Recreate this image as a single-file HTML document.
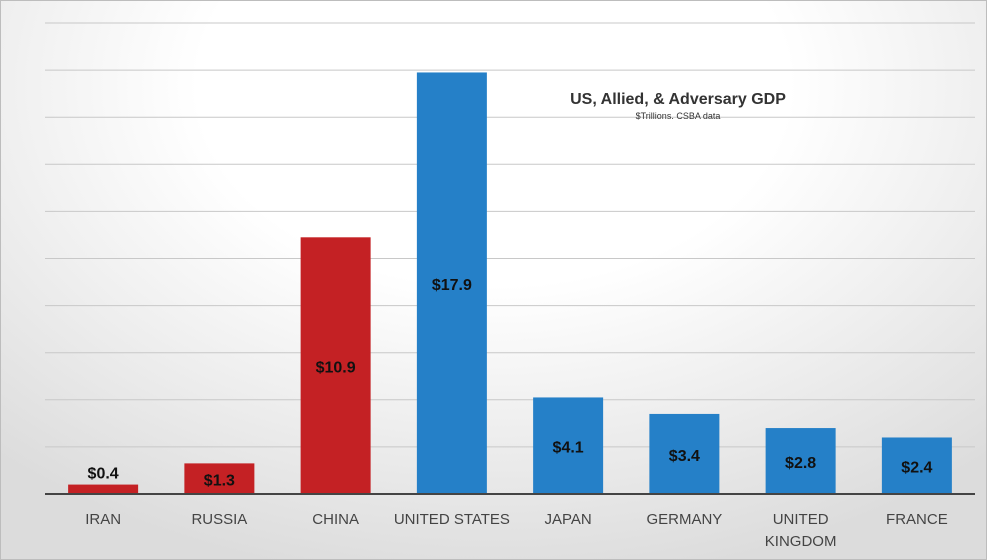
<!DOCTYPE html>
<html><head><meta charset="utf-8"><style>
html,body{margin:0;padding:0}
body{width:987px;height:560px;overflow:hidden;font-family:"Liberation Sans",sans-serif}
#bg{position:absolute;left:0;top:0;width:985px;height:558px;border:1px solid #bdbdbd;background:radial-gradient(ellipse 75% 90% at 50% 15%,#ffffff 40%,#dcdcdc 100%)}
</style></head><body>
<div id="bg"></div>
<svg id="chart" width="987" height="560" style="position:absolute;left:0;top:0"></svg>
<script>
const categories=["IRAN","RUSSIA","CHINA","UNITED STATES","JAPAN","GERMANY","UNITED|KINGDOM","FRANCE"];
const values=[0.4,1.3,10.9,17.9,4.1,3.4,2.8,2.4];
const labels=["$0.4","$1.3","$10.9","$17.9","$4.1","$3.4","$2.8","$2.4"];
const colors=["#c42124","#c42124","#c42124","#2580c8","#2580c8","#2580c8","#2580c8","#2580c8"];
const gridTicks=[2,4,6,8,10,12,14,16,18,20];
const svg=document.getElementById('chart');
const NS='http://www.w3.org/2000/svg';
const x0=45,x1=975,base=494,yMax=20,yTop=23;
const y=v=>base-(base-yTop)*v/yMax;
const band=(x1-x0)/categories.length;
const bx=i=>x0+band*i+band/2;
function mk(t,a){const e=document.createElementNS(NS,t);for(const k in a)e.setAttribute(k,a[k]);svg.appendChild(e);return e;}
gridTicks.forEach(v=>{const l=mk('line',{x1:x0,x2:x1,y1:y(v),y2:y(v),stroke:'#c8c8c8','stroke-width':1});

});
values.forEach((v,i)=>{
const r=mk('rect',{x:bx(i)-35,y:y(v),width:70,height:base-y(v),fill:colors[i]});


const small=(base-y(v))<20;
const ty=small?y(v)-6:(y(v)+base)/2+7;
const t=mk('text',{x:bx(i),y:ty,'text-anchor':'middle','font-size':16,'font-weight':'bold',fill:'#111'});
t.textContent=labels[i];


categories[i].split('|').forEach((s,j)=>{
const c=mk('text',{x:bx(i),y:524+j*22,'text-anchor':'middle','font-size':15,fill:'#444'});
c.textContent=s;

});
});
const ax=mk('line',{x1:x0,x2:x1,y1:base,y2:base,stroke:'#444','stroke-width':2});


const ti=mk('text',{x:678,y:104,'text-anchor':'middle','font-size':16,'font-weight':'bold',fill:'#333'});
ti.textContent='US, Allied, & Adversary GDP';


const st=mk('text',{x:678,y:119,'text-anchor':'middle','font-size':9,fill:'#333'});
st.textContent='$Trillions. CSBA data';


</script>
</body></html>
